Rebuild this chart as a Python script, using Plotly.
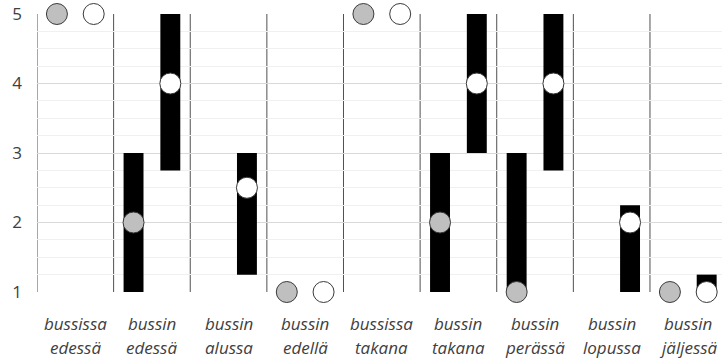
import plotly.graph_objects as go

# ---- data ----
cat_line1 = ["bussissa", "bussin", "bussin", "bussin", "bussissa", "bussin", "bussin", "bussin", "bussin"]
cat_line2 = ["edessä", "edessä", "alussa", "edellä", "takana", "takana", "perässä", "lopussa", "jäljessä"]

grey_value = [5, 2, None, 1, 5, 2, 1, None, 1]
grey_low = [None, 1, None, None, None, 1, 1, None, None]
grey_high = [None, 3, None, None, None, 3, 3, None, None]

white_value = [5, 4, 2.5, 1, 5, 4, 4, 2, 1]
white_low = [None, 2.75, 1.25, None, None, 3, 2.75, 1, 1]
white_high = [None, 5, 3, None, None, 5, 5, 2.25, 1.25]

y_ticks = [1, 2, 3, 4, 5]

# ---- layout constants ----
OFF = 0.24
BAR_W = 0.26
TXT = "#404040"
FONT = "Open Sans"

idx = list(range(len(cat_line1)))
gx = [i - OFF for i in idx]
wx = [i + OFF for i in idx]

def span(lo, hi):
    return [None if (a is None or b is None) else b - a for a, b in zip(lo, hi)]

fig = go.Figure()

fig.add_trace(go.Bar(x=gx, y=span(grey_low, grey_high), base=grey_low, width=BAR_W,
                     marker=dict(color="#000000", line=dict(width=0)), showlegend=False,
                     hoverinfo="skip"))
fig.add_trace(go.Bar(x=wx, y=span(white_low, white_high), base=white_low, width=BAR_W,
                     marker=dict(color="#000000", line=dict(width=0)), showlegend=False,
                     hoverinfo="skip"))

fig.add_trace(go.Scatter(x=gx, y=grey_value, mode="markers", cliponaxis=False, showlegend=False,
                         marker=dict(size=21, color="#BFBFBF", line=dict(color="#3a3a3a", width=1))))
fig.add_trace(go.Scatter(x=wx, y=white_value, mode="markers", cliponaxis=False, showlegend=False,
                         marker=dict(size=21, color="#FFFFFF", line=dict(color="#3a3a3a", width=1))))

# category separators
for i in idx:
    fig.add_shape(type="line", xref="x", yref="y", x0=i - 0.5, x1=i - 0.5, y0=1, y1=5,
                  line=dict(color="#505050", width=1), layer="below")

# category labels (two lines)
for i in idx:
    fig.add_annotation(x=i, y=-0.112, xref="x", yref="paper", text="<i>%s</i>" % cat_line1[i],
                       showarrow=False, font=dict(family=FONT, size=17, color=TXT), yanchor="middle")
    fig.add_annotation(x=i, y=-0.198, xref="x", yref="paper", text="<i>%s</i>" % cat_line2[i],
                       showarrow=False, font=dict(family=FONT, size=17, color=TXT), yanchor="middle")

fig.update_layout(
    width=722, height=363,
    margin=dict(l=37, r=0, t=14, b=71, autoexpand=False),
    paper_bgcolor="white", plot_bgcolor="white",
    barmode="overlay",
    font=dict(family=FONT, color=TXT),
    xaxis=dict(range=[-0.5, 8.44], showgrid=False, zeroline=False, showticklabels=False,
               showline=False, fixedrange=True, automargin=False),
    yaxis=dict(range=[1, 5], tickvals=y_ticks, showgrid=True, gridcolor="#D9D9D9", gridwidth=1,
               zeroline=False, showline=False, ticks="", automargin=False,
               tickfont=dict(family=FONT, size=17, color=TXT), ticklabelstandoff=14,
               minor=dict(dtick=0.25, showgrid=True, gridcolor="#F0F0F0", gridwidth=1)),
)

fig.write_html("out.html", config={"displayModeBar": False},
               post_script="document.body.style.margin='0';document.body.style.overflow='hidden';")
